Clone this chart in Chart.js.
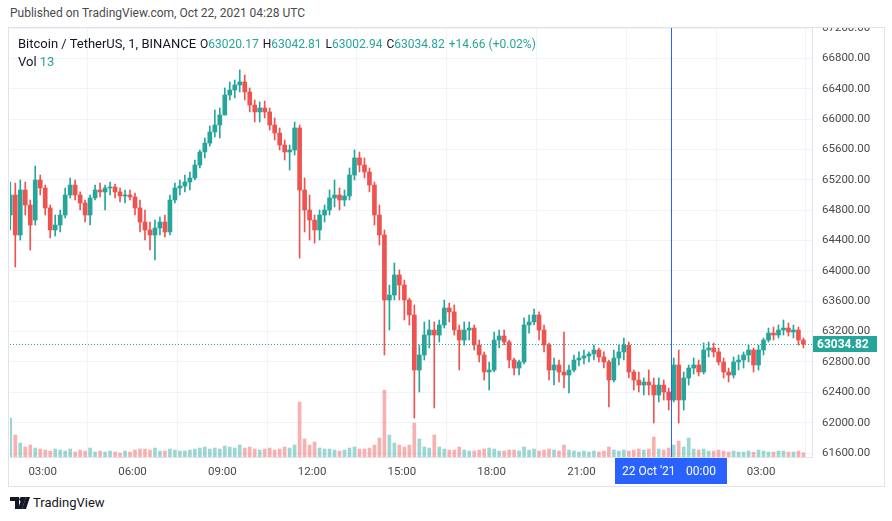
<!DOCTYPE html>
<html>
<head>
<meta charset="utf-8">
<script src="https://cdn.jsdelivr.net/npm/chart.js@4"></script>
<style>
  body { margin: 0; background: #fff; font-family: Roboto, "Noto Sans", sans-serif; }
  #published { position: absolute; left: 10px; top: 6px; font-size: 12px; color: #4a4a4a; }
  #pane { position: absolute; left: 8px; top: 27px; width: 877px; height: 460px; box-sizing: border-box; border: 1px solid #e0e3eb; }
  #chart { position: absolute; left: 0; top: 0; }
  #legend { position: absolute; left: 9px; top: 7px; font-size: 13px; color: #131722; line-height: 17px; white-space: nowrap; }
  #legend .v { color: #26a69a; }
  #legend .k { display: inline-block; margin-left: 4px; font-size: 12px; }
  #logo { position: absolute; left: 10px; top: 495px; font-size: 13px; color: #131722; display: flex; align-items: center; }
  #logo svg { margin-right: 3px; }
</style>
</head>
<body>
<div id="published">Published on TradingView.com, Oct 22, 2021 04:28 UTC</div>
<div id="pane">
  <canvas id="chart" width="875" height="458"></canvas>
  <div id="legend"></div>
</div>
<div id="logo">
  <svg width="20" height="12" viewBox="0 0 20 12"><path d="M0 0h9v12H5V4H0z M12 0h4l-4 12H8z" fill="#131722"/><circle cx="11.5" cy="2.2" r="2.2" fill="#131722"/><path d="M16 0h4l-4 12h-4z" fill="#131722"/></svg>
  <span>TradingView</span>
</div>
<script>
"use strict";
// BTCUSDT 1m chart, drawn here as 10 minute candles.
// x values are minutes after 21 Oct 2021 02:00 UTC.
const FIRST_CANDLE = -10;   // 01:50
const CANDLE_MINUTES = 10;

const opens = [
  64736, 65000, 64473, 65066, 64868, 64670, 65197, 65092, 64829, 64539,
  64604, 64736, 65000, 65131, 65000, 64894, 64736, 64961, 65066, 65040,
  65092, 65105, 65040, 64987, 65000, 64974, 64829, 64644, 64539, 64473,
  64565, 64644, 64513, 64934, 65092, 65118, 65171, 65224, 65395, 65567,
  65684, 65830, 65922, 66054, 66317, 66383, 66449, 66489, 66357, 66185,
  66094, 66146, 66094, 65922, 65816, 65658, 65567, 65593, 65883, 65066,
  64802, 64670, 64539, 64736, 64802, 64961, 65000, 64934, 64987, 65263,
  65488, 65395, 65303, 65131, 64736, 64473, 63616, 63682, 63946, 63814,
  63616, 63419, 62694, 62892, 63155, 63221, 63155, 63287, 63511, 63459,
  63221, 63089, 63221, 63247, 63023, 62892, 62668, 62694, 63089, 63142,
  63063, 62826, 62720, 62800, 63287, 63327, 63419, 63221, 63023, 62694,
  62760, 62668, 62628, 62694, 62826, 62852, 62879, 62905, 62958, 62866,
  62800, 62562, 62852, 62932, 63023, 62668, 62562, 62496, 62536, 62496,
  62365, 62496, 62405, 62299, 62760, 62299, 62589, 62720, 62760, 62668,
  62958, 62984, 62932, 62800, 62668, 62628, 62800, 62826, 62892, 62958,
  62760, 62958, 63089, 63181, 63155, 63221, 63247, 63195, 63221, 63089
];
const highs = [
  65171, 65157, 65197, 65171, 64934, 65382, 65263, 65131, 64868, 64736,
  64802, 65092, 65224, 65197, 65040, 64934, 65000, 65131, 65157, 65131,
  65171, 65144, 65092, 65066, 65066, 65026, 64934, 64802, 64644, 64670,
  64710, 64736, 65000, 65157, 65197, 65263, 65303, 65461, 65593, 65751,
  65909, 66120, 66146, 66410, 66489, 66515, 66647, 66581, 66410, 66251,
  66225, 66238, 66146, 66015, 65883, 65724, 65658, 65962, 65922, 65224,
  65000, 64736, 64802, 64868, 65066, 65197, 65092, 65066, 65356, 65593,
  65567, 65488, 65356, 65171, 64868, 64539, 63814, 64103, 64012, 63880,
  63642, 63551, 63023, 63327, 63353, 63327, 63353, 63616, 63576, 63551,
  63287, 63327, 63327, 63287, 63089, 62932, 62800, 63195, 63221, 63221,
  63089, 62852, 62826, 63380, 63419, 63498, 63459, 63287, 63050, 62852,
  62826, 63195, 62760, 62892, 62932, 62958, 62932, 63023, 62984, 62932,
  62826, 62958, 63023, 63116, 63063, 62694, 62668, 62589, 62694, 62589,
  62589, 62562, 62457, 62852, 62958, 62668, 62760, 62852, 62826, 63050,
  63063, 63050, 62984, 62852, 62720, 62866, 62892, 62932, 63023, 62984,
  63023, 63116, 63247, 63260, 63287, 63353, 63314, 63287, 63260, 63116
];
const lows = [
  64539, 64051, 64407, 64736, 64275, 64604, 65000, 64736, 64434, 64460,
  64513, 64697, 64961, 64934, 64802, 64644, 64604, 64934, 64974, 64802,
  65000, 64961, 64908, 64894, 64934, 64736, 64513, 64407, 64275, 64143,
  64473, 64447, 64473, 64894, 65000, 65040, 65066, 65197, 65356, 65488,
  65645, 65764, 65751, 66054, 66251, 66278, 66357, 66251, 66094, 65962,
  65962, 66015, 65856, 65724, 65593, 65461, 65329, 65527, 64169, 64513,
  64407, 64367, 64407, 64644, 64736, 64842, 64802, 64855, 64934, 65197,
  65303, 65224, 65040, 64604, 64341, 62892, 63221, 63616, 63616, 63353,
  63287, 62061, 62405, 62826, 62984, 62194, 63063, 63247, 63327, 63155,
  62694, 63023, 63089, 62958, 62800, 62562, 62431, 62668, 62984, 63023,
  62720, 62628, 62628, 62773, 63181, 63287, 63089, 62932, 62562, 62496,
  62536, 62457, 62391, 62668, 62747, 62773, 62800, 62826, 62800, 62720,
  62207, 62536, 62760, 62826, 62589, 62431, 62405, 62365, 62365, 61996,
  62273, 62299, 62167, 62273, 61996, 62167, 62496, 62641, 62615, 62641,
  62866, 62866, 62760, 62589, 62536, 62589, 62694, 62720, 62800, 62668,
  62694, 62892, 63063, 63089, 63116, 63155, 63142, 63116, 63023, 62984
];
const closes = [
  65000, 64473, 65066, 64868, 64604, 65197, 65092, 64829, 64539, 64604,
  64736, 65000, 65131, 65000, 64894, 64736, 64961, 65066, 65040, 65092,
  65105, 65040, 64987, 65000, 64974, 64829, 64644, 64539, 64473, 64565,
  64644, 64513, 64934, 65092, 65118, 65171, 65224, 65395, 65567, 65684,
  65830, 65922, 66054, 66317, 66383, 66449, 66489, 66357, 66185, 66094,
  66146, 66094, 65922, 65816, 65658, 65567, 65593, 65883, 65066, 64802,
  64670, 64539, 64736, 64802, 64961, 65000, 64934, 64987, 65263, 65488,
  65395, 65303, 65131, 64736, 64473, 63616, 63682, 63946, 63814, 63616,
  63419, 62694, 62892, 63155, 63221, 63155, 63287, 63511, 63459, 63221,
  63089, 63221, 63247, 63023, 62892, 62668, 62694, 63089, 63142, 63063,
  62826, 62720, 62800, 63287, 63327, 63419, 63221, 63023, 62694, 62760,
  62668, 62628, 62694, 62826, 62852, 62879, 62905, 62958, 62866, 62800,
  62562, 62852, 62932, 63023, 62668, 62562, 62496, 62536, 62496, 62365,
  62496, 62405, 62299, 62760, 62299, 62589, 62720, 62760, 62668, 62958,
  62984, 62932, 62800, 62668, 62628, 62800, 62826, 62892, 62958, 62760,
  62958, 63089, 63181, 63155, 63221, 63247, 63195, 63221, 63089, 63035
];
// peak 1m volume in each bucket, BTC
const volumes = [
  117, 66, 42, 30, 36, 27, 24, 21, 18, 24,
  21, 18, 24, 15, 21, 18, 27, 15, 18, 15,
  18, 15, 12, 18, 15, 21, 24, 24, 21, 27,
  18, 18, 24, 21, 18, 18, 21, 24, 27, 30,
  24, 27, 24, 33, 30, 27, 36, 27, 30, 24,
  21, 24, 27, 21, 24, 30, 27, 36, 165, 54,
  36, 45, 27, 24, 24, 21, 18, 21, 27, 30,
  24, 24, 27, 36, 57, 201, 66, 42, 36, 30,
  36, 102, 54, 30, 27, 66, 30, 24, 21, 21,
  30, 21, 18, 18, 21, 24, 27, 24, 18, 18,
  21, 21, 18, 30, 21, 24, 18, 21, 24, 21,
  18, 36, 21, 18, 15, 18, 15, 18, 15, 18,
  30, 21, 18, 21, 18, 21, 24, 21, 24, 60,
  24, 21, 27, 36, 48, 30, 57, 24, 21, 24,
  18, 18, 21, 18, 15, 18, 15, 15, 18, 15,
  21, 18, 15, 15, 18, 18, 15, 15, 18, 13
];

const PRICE_TICKS = [61600, 62000, 62400, 62800, 63200, 63600, 64000, 64400,
  64800, 65200, 65600, 66000, 66400, 66800, 67200];
const TIME_TICKS = [60, 240, 420, 600, 780, 960, 1140, 1320, 1500];
const TIME_LABELS = ["03:00", "06:00", "09:00", "12:00", "15:00", "18:00", "21:00", "22", "03:00"];

const SYMBOL = "Bitcoin / TetherUS, 1, BINANCE";
const LAST_O = "63020.17", LAST_H = "63042.81", LAST_L = "63002.94", LAST_C = "63034.82";
const LAST_CHANGE = "+14.66 (+0.02%)";
const LAST_VOL = "13";
const LAST_PRICE = 63034.82;
const CROSSHAIR_T = 1320;
const CROSSHAIR_TEXT = ["22 Oct '21", "00:00"];

const GREEN = "#26a69a";
const RED = "#ef5350";
const GREEN_VOL = "rgba(38,166,154,0.45)";
const RED_VOL = "rgba(239,83,80,0.45)";
const FONT = "Roboto, 'Noto Sans', sans-serif";

document.getElementById("legend").innerHTML =
  SYMBOL +
  '<span class="k">O<span class="v">' + LAST_O + '</span></span>' +
  '<span class="k">H<span class="v">' + LAST_H + '</span></span>' +
  '<span class="k">L<span class="v">' + LAST_L + '</span></span>' +
  '<span class="k">C<span class="v">' + LAST_C + '</span></span>' +
  '<span class="k v">' + LAST_CHANGE + '</span><br>Vol <span class="v">' + LAST_VOL + '</span>';

const times = opens.map((_, i) => FIRST_CANDLE + i * CANDLE_MINUTES + CANDLE_MINUTES / 2);
const isUp = i => closes[i] >= opens[i];

const overlays = {
  id: "overlays",
  afterDatasetsDraw(chart) {
    const { ctx, chartArea: a, scales: { x, y } } = chart;
    ctx.save();
    const py = Math.round(y.getPixelForValue(LAST_PRICE)) + 0.5;
    ctx.strokeStyle = GREEN;
    ctx.lineWidth = 1;
    ctx.setLineDash([1, 2]);
    ctx.beginPath();
    ctx.moveTo(a.left, py);
    ctx.lineTo(a.right, py);
    ctx.stroke();

    const cx = Math.round(x.getPixelForValue(CROSSHAIR_T)) + 0.5;
    ctx.setLineDash([]);
    ctx.strokeStyle = "#2962ff";
    ctx.beginPath();
    ctx.moveTo(cx, a.top);
    ctx.lineTo(cx, a.bottom);
    ctx.stroke();
    ctx.restore();
  },
  afterDraw(chart) {
    const { ctx, chartArea: a, scales: { x, y } } = chart;
    ctx.save();
    // last price tag on the price scale
    const py = Math.round(y.getPixelForValue(LAST_PRICE));
    ctx.fillStyle = GREEN;
    ctx.fillRect(a.right + 1, py - 8, 64, 16);
    ctx.fillStyle = "#fff";
    ctx.font = "bold 12px " + FONT;
    ctx.textBaseline = "middle";
    ctx.textAlign = "left";
    ctx.fillText(LAST_C, a.right + 5, py + 1);

    // crosshair time tag
    const cx = Math.round(x.getPixelForValue(CROSSHAIR_T));
    ctx.fillStyle = "#2962ff";
    ctx.fillRect(cx - 56, a.bottom + 1, 112, 26);
    ctx.fillStyle = "#fff";
    ctx.font = "12px " + FONT;
    ctx.fillText(CROSSHAIR_TEXT[0], cx - 49, a.bottom + 15);
    ctx.fillText(CROSSHAIR_TEXT[1], cx + 15, a.bottom + 15);
    ctx.restore();
  }
};

new Chart(document.getElementById("chart"), {
  type: "bar",
  data: {
    datasets: [
      {
        label: "body",
        data: times.map((t, i) => ({ x: t, y: [opens[i], closes[i]] })),
        backgroundColor: c => isUp(c.dataIndex) ? GREEN : RED,
        barThickness: 4,
        minBarLength: 1,
        grouped: false,
        order: 0,
      },
      {
        label: "wick",
        data: times.map((t, i) => ({ x: t, y: [lows[i], highs[i]] })),
        backgroundColor: c => isUp(c.dataIndex) ? GREEN : RED,
        barThickness: 1,
        grouped: false,
        order: 1,
      },
      {
        label: "Vol",
        yAxisID: "vol",
        data: times.map((t, i) => ({ x: t, y: volumes[i] })),
        backgroundColor: c => isUp(c.dataIndex) ? GREEN_VOL : RED_VOL,
        barThickness: 3,
        grouped: false,
        order: 2,
      },
    ],
  },
  options: {
    responsive: false,
    animation: false,
    devicePixelRatio: 1,
    events: [],
    layout: { padding: { left: 1, top: 0, right: 0, bottom: 0 } },
    plugins: { legend: { display: false }, tooltip: { enabled: false } },
    scales: {
      x: {
        type: "linear",
        min: -5.6,
        max: 1602.2,
        offset: false,
        afterBuildTicks: s => { s.ticks = TIME_TICKS.map(v => ({ value: v })); },
        afterFit: s => { s.height = 29; s.paddingLeft = 0; s.paddingRight = 0; },
        grid: { color: "#f0f3fa", drawTicks: false },
        border: { color: "#e0e3eb" },
        ticks: {
          autoSkip: false,
          maxRotation: 0,
          padding: 8,
          color: "#4a4a4a",
          font: { family: FONT, size: 11.5 },
          callback: (v, i) => TIME_LABELS[i],
        },
      },
      y: {
        position: "right",
        min: 61548,
        max: 67200,
        afterBuildTicks: s => { s.ticks = PRICE_TICKS.map(v => ({ value: v })); },
        afterFit: s => { s.width = 72; s.paddingTop = 0; s.paddingBottom = 0; },
        grid: { color: "#f0f3fa", drawTicks: false },
        border: { color: "#e0e3eb" },
        ticks: {
          padding: 10,
          color: "#4a4a4a",
          font: { family: FONT, size: 11.5 },
          callback: v => v.toFixed(2),
        },
      },
      vol: {
        display: false,
        min: 0,
        max: 1290,
      },
    },
  },
  plugins: [overlays],
});
</script>
</body>
</html>
